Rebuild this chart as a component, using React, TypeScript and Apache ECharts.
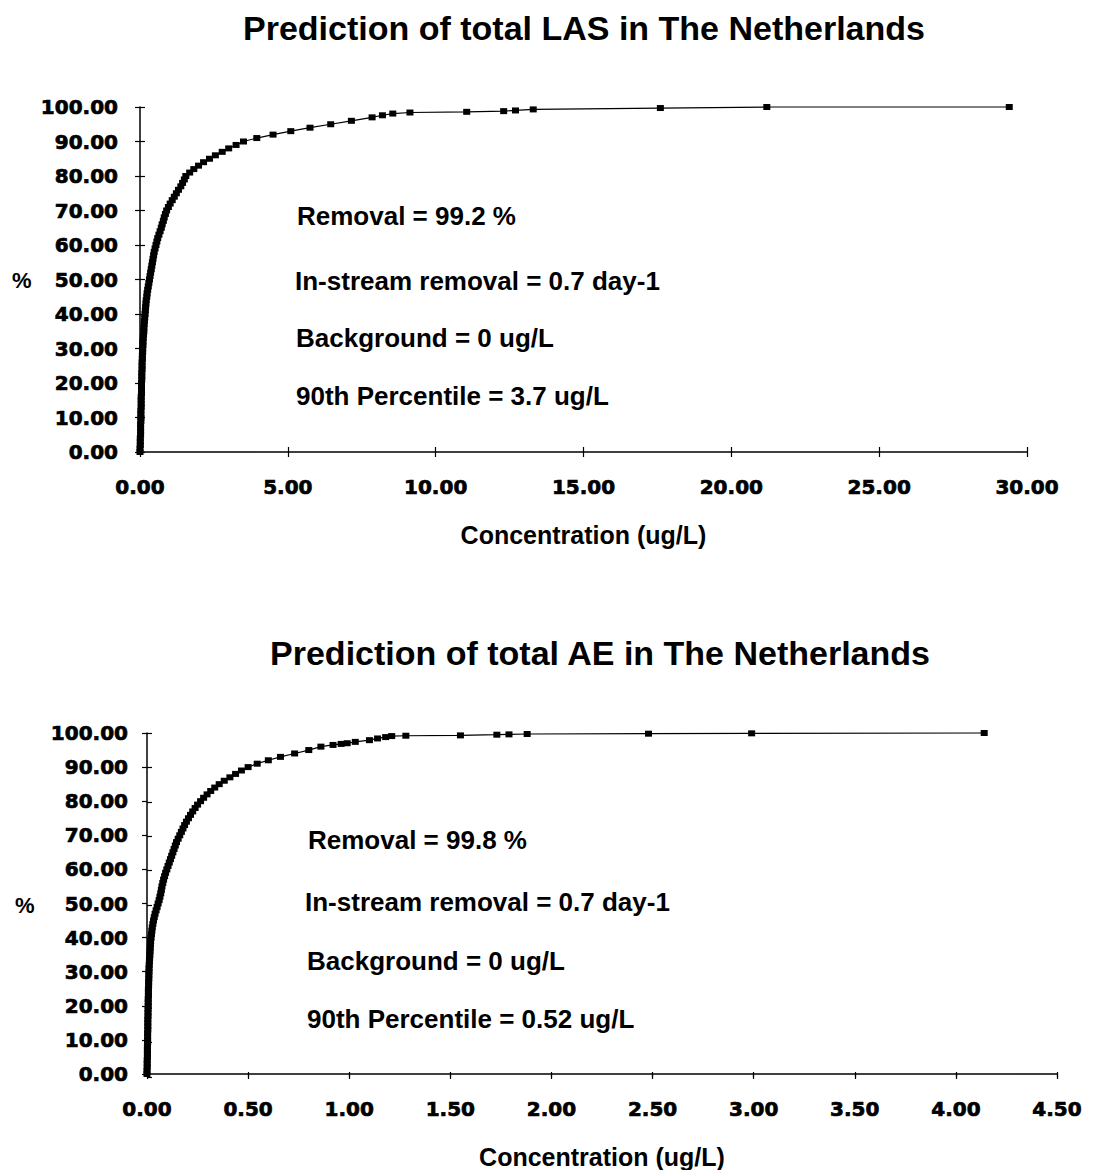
import React, { useEffect, useRef } from "react";
import * as echarts from "echarts";

// ---- Data: LAS (top chart) ----
const lasPercent = [
  0, 1, 2, 3, 4, 5, 6, 7, 8, 9,
  10, 11, 12, 13, 14, 15, 16, 17, 18, 19,
  20, 21, 22, 23, 24, 25, 26, 27, 28, 29,
  30, 31, 32, 33, 34, 35, 36, 37, 38, 39,
  40, 41, 42, 43, 44, 45, 46, 47, 48, 49,
  50, 51, 52, 53, 54, 55, 56, 57, 58, 59,
  60, 61, 62, 63, 64, 65, 66, 67, 68, 69,
  70, 71, 72, 73, 74, 75, 76, 77, 78, 79,
  80, 81, 82, 83, 84, 85, 86, 87, 88, 89,
  90, 91, 92, 93, 94, 95, 96, 97,
  97.6, 98.1, 98.4, 98.6, 98.8, 99.0, 99.3, 99.7, 100, 100,
];
const lasConc = [
  0.0, 0.0, 0.01, 0.01, 0.01, 0.02, 0.02, 0.02, 0.02, 0.03,
  0.03, 0.03, 0.03, 0.04, 0.04, 0.04, 0.04, 0.05, 0.05, 0.05,
  0.05, 0.06, 0.06, 0.06, 0.07, 0.07, 0.07, 0.08, 0.08, 0.09,
  0.09, 0.1, 0.1, 0.11, 0.12, 0.13, 0.13, 0.14, 0.15, 0.16,
  0.17, 0.18, 0.19, 0.2, 0.21, 0.23, 0.24, 0.26, 0.28, 0.3,
  0.32, 0.34, 0.36, 0.38, 0.4, 0.42, 0.44, 0.46, 0.48, 0.51,
  0.54, 0.57, 0.6, 0.64, 0.68, 0.72, 0.75, 0.79, 0.82, 0.86,
  0.9, 0.96, 1.02, 1.09, 1.16, 1.23, 1.3, 1.38, 1.44, 1.5,
  1.55, 1.68, 1.82, 1.98, 2.15, 2.35, 2.55, 2.78, 3.0, 3.25,
  3.5, 3.95, 4.5, 5.1, 5.75, 6.45, 7.15, 7.85,
  8.2, 8.55, 9.13, 11.05, 12.3, 12.7, 13.3, 17.6, 21.2, 29.4,
];

// ---- Data: AE (bottom chart) ----
const aePercent = [
  0, 1, 2, 3, 4, 5, 6, 7, 8, 9,
  10, 11, 12, 13, 14, 15, 16, 17, 18, 19,
  20, 21, 22, 23, 24, 25, 26, 27, 28, 29,
  30, 31, 32, 33, 34, 35, 36, 37, 38, 39,
  40, 41, 42, 43, 44, 45, 46, 47, 48, 49,
  50, 51, 52, 53, 54, 55, 56, 57, 58, 59,
  60, 61, 62, 63, 64, 65, 66, 67, 68, 69,
  70, 71, 72, 73, 74, 75, 76, 77, 78, 79,
  80, 81, 82, 83, 84, 85, 86, 87, 88, 89,
  90, 91, 92, 93, 94, 95, 96,
  96.5, 96.8, 97.0, 97.4, 97.9, 98.4, 98.8, 99.1, 99.2, 99.3,
  99.5, 99.6, 99.7, 99.8, 99.9, 100,
];
const aeConc = [
  0.0, 0.0, 0.001, 0.001, 0.001, 0.002, 0.002, 0.002, 0.002, 0.003,
  0.003, 0.003, 0.003, 0.004, 0.004, 0.004, 0.004, 0.005, 0.005, 0.005,
  0.006, 0.006, 0.006, 0.007, 0.007, 0.007, 0.008, 0.008, 0.009, 0.009,
  0.01, 0.01, 0.011, 0.012, 0.013, 0.014, 0.015, 0.016, 0.017, 0.018,
  0.02, 0.022, 0.024, 0.026, 0.029, 0.032, 0.036, 0.04, 0.045, 0.05,
  0.055, 0.06, 0.064, 0.068, 0.071, 0.074, 0.078, 0.082, 0.087, 0.092,
  0.098, 0.104, 0.11, 0.116, 0.122, 0.128, 0.134, 0.14, 0.146, 0.154,
  0.162, 0.17, 0.178, 0.186, 0.195, 0.205, 0.215, 0.226, 0.238, 0.25,
  0.265, 0.28, 0.297, 0.315, 0.335, 0.357, 0.382, 0.41, 0.438, 0.467,
  0.5, 0.545, 0.6, 0.66, 0.73, 0.8, 0.86,
  0.92, 0.96, 0.99, 1.03, 1.1, 1.14, 1.18, 1.21, 1.28, 1.55,
  1.73, 1.79, 1.88, 2.48, 2.99, 4.14,
];

// ---- Texts ----
const titles = [
  "Prediction of total LAS in The Netherlands",
  "Prediction of total AE in The Netherlands",
];
const xAxisName = "Concentration (ug/L)";
const yAxisName = "%";
const lasNotes = [
  "Removal = 99.2 %",
  "In-stream removal = 0.7 day-1",
  "Background = 0 ug/L",
  "90th Percentile = 3.7 ug/L",
];
const aeNotes = [
  "Removal = 99.8 %",
  "In-stream removal = 0.7 day-1",
  "Background = 0 ug/L",
  "90th Percentile = 0.52 ug/L",
];

// ---- Axis ranges ----
const lasXMax = 30;
const lasXStep = 5;
const aeXMax = 4.5;
const aeXStep = 0.5;
const yMax = 100;
const yStep = 10;

const ARIAL = "'Liberation Sans', Arial, sans-serif";
const TICKFONT = "'DejaVu Sans', sans-serif";

export default function App() {
  const ref = useRef<HTMLDivElement>(null);

  useEffect(() => {
    if (!ref.current) return;
    const chart = echarts.init(ref.current, null, { renderer: "svg" });

    const grids = [
      { left: 140, top: 107, width: 887, height: 345 },
      { left: 147, top: 733, width: 910, height: 344 },
    ];

    const axisLine = { show: true, onZero: false, lineStyle: { color: "#000", width: 1.5 } };
    const tickLabel = (margin: number) => ({
      show: true,
      margin,
      color: "#000",
      fontFamily: TICKFONT,
      fontWeight: "bold" as const,
      fontSize: 20,
      textBorderColor: "#000",
      textBorderWidth: 0.7,
      formatter: (v: number) => v.toFixed(2),
    });

    const mainX = (gi: number, max: number, step: number, gap: number) => ({
      type: "value" as const,
      gridIndex: gi,
      min: 0,
      max,
      interval: step,
      axisLine,
      axisTick: { show: true, inside: false, length: 5, lineStyle: { color: "#000", width: 1.2 } },
      axisLabel: tickLabel(25),
      splitLine: { show: false },
      name: xAxisName,
      nameLocation: "middle" as const,
      nameGap: gap,
      nameTextStyle: { color: "#000", fontFamily: ARIAL, fontWeight: "bold" as const, fontSize: 25 },
    });
    const overlayX = (gi: number, max: number, step: number) => ({
      type: "value" as const,
      gridIndex: gi,
      min: 0,
      max,
      interval: step,
      axisLine: { show: false, onZero: false },
      axisTick: { show: true, inside: true, length: 5, lineStyle: { color: "#000", width: 1.2 } },
      axisLabel: { show: false },
      splitLine: { show: false },
    });
    const mainY = (gi: number, margin: number) => ({
      type: "value" as const,
      gridIndex: gi,
      min: 0,
      max: yMax,
      interval: yStep,
      axisLine,
      axisTick: { show: true, inside: false, length: 5, lineStyle: { color: "#000", width: 1.2 } },
      axisLabel: tickLabel(margin),
      splitLine: { show: false },
    });
    const overlayY = (gi: number) => ({
      type: "value" as const,
      gridIndex: gi,
      min: 0,
      max: yMax,
      interval: yStep,
      axisLine: { show: false, onZero: false },
      axisTick: { show: true, inside: true, length: 5, lineStyle: { color: "#000", width: 1.2 } },
      axisLabel: { show: false },
      splitLine: { show: false },
    });

    const seriesOf = (xs: number[], ys: number[], idx: number) => ({
      type: "line" as const,
      xAxisIndex: idx,
      yAxisIndex: idx,
      data: xs.map((x, i) => [x, ys[i]]),
      symbol: "rect",
      symbolSize: [7, 6],
      showSymbol: true,
      showAllSymbol: true,
      clip: false,
      itemStyle: { color: "#000" },
      lineStyle: { color: "#000", width: 1.2 },
    });

    const noteText = (text: string, x: number, y: number) => ({
      type: "text" as const,
      x,
      y,
      style: {
        text,
        fill: "#000",
        font: `bold 26px ${ARIAL}`,
        textAlign: "left",
        textVerticalAlign: "middle",
      },
    });
    const titleText = (text: string, x: number, y: number) => ({
      type: "text" as const,
      x,
      y,
      style: {
        text,
        fill: "#000",
        font: `bold 34px ${ARIAL}`,
        textAlign: "center",
        textVerticalAlign: "middle",
      },
    });
    const pctText = (x: number, y: number) => ({
      type: "text" as const,
      x,
      y,
      style: {
        text: yAxisName,
        fill: "#000",
        font: `bold 22px ${ARIAL}`,
        textAlign: "left",
        textVerticalAlign: "middle",
      },
    });

    const lasNoteY = [216, 281, 338, 396];
    const lasNoteX = [297, 295, 296, 296];
    const aeNoteY = [840, 902, 961, 1019];
    const aeNoteX = [308, 305, 307, 307];

    chart.setOption({
      animation: false,
      backgroundColor: "#fff",
      grid: [grids[0], grids[1], grids[0], grids[1]],
      xAxis: [
        mainX(0, lasXMax, lasXStep, 70),
        mainX(1, aeXMax, aeXStep, 70),
        overlayX(2, lasXMax, lasXStep),
        overlayX(3, aeXMax, aeXStep),
      ],
      yAxis: [mainY(0, 22), mainY(1, 19), overlayY(2), overlayY(3)],
      series: [seriesOf(lasConc, lasPercent, 0), seriesOf(aeConc, aePercent, 1)],
      graphic: [
        titleText(titles[0], 584, 28),
        titleText(titles[1], 600, 653),
        pctText(12, 280),
        pctText(15, 905),
        ...lasNotes.map((t, i) => noteText(t, lasNoteX[i], lasNoteY[i])),
        ...aeNotes.map((t, i) => noteText(t, aeNoteX[i], aeNoteY[i])),
      ],
    });

    return () => chart.dispose();
  }, []);

  return (
    <div
      ref={ref}
      style={{ position: "absolute", left: 0, top: 0, width: 1093, height: 1170, background: "#fff" }}
    />
  );
}
